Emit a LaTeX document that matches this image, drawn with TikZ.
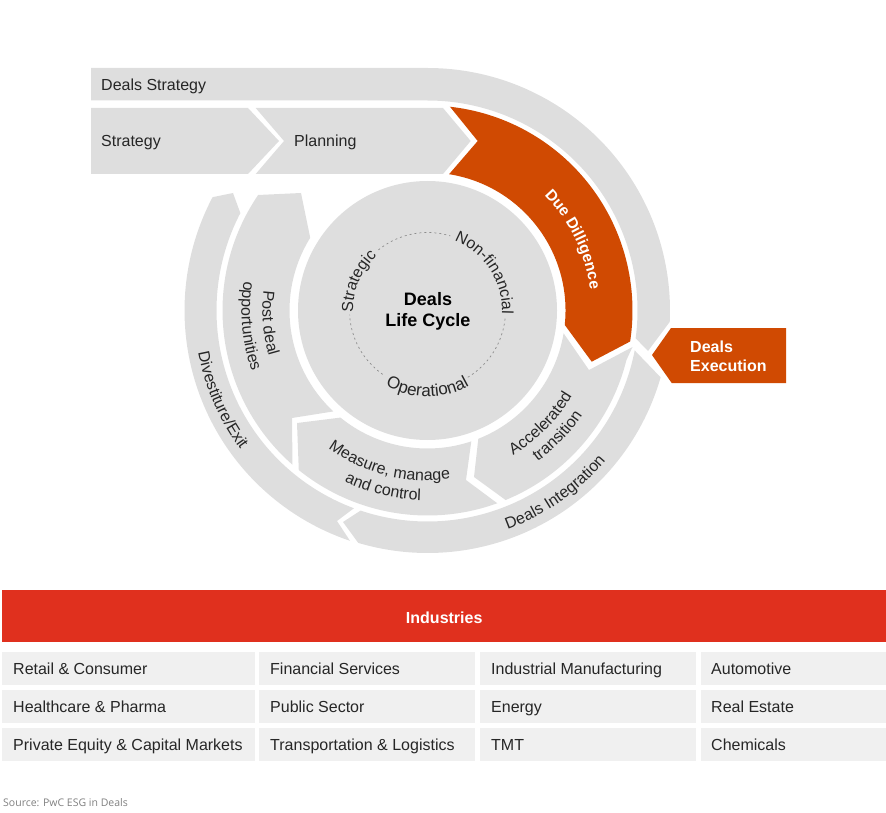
\documentclass[tikz,border=0pt]{standalone}
\usepackage{fontspec}
\setmainfont{Liberation Sans}
\newfontfamily\sourcefont{Open Sans}
\usepackage{xcolor}
\usepackage{tikz}
\usetikzlibrary{calc}
\usetikzlibrary{decorations.text}

\definecolor{ringgray}{HTML}{DEDEDE}
\definecolor{cellgray}{HTML}{F0F0F0}
\definecolor{dealorange}{HTML}{D04A02}
\definecolor{barred}{HTML}{E0301E}
\definecolor{labelblack}{HTML}{262626}
\definecolor{dotgray}{HTML}{8C8C8C}

\newcommand{\labelfont}{\fontsize{16}{19}\selectfont\color{labelblack}}
\newcommand{\widefont}{\fontsize{17}{19}\selectfont\color{labelblack}}
\newcommand{\boldfont}{\fontsize{16}{19}\selectfont\bfseries\color{white}}
\newcommand{\duefont}{\fontsize{15.5}{19}\selectfont\bfseries\color{white}}

\tikzset{
	ringlabel/.style={decorate, decoration={text along path, text align=center, text={|\labelfont|#1}}},
	widelabel/.style={decorate, decoration={text along path, text align=center, text={|\widefont|#1}}},
	duelabel/.style={decorate, decoration={text along path, text align=center, text={|\duefont|#1}}},
	plainlabel/.style={anchor=base west, inner sep=0pt, font=\labelfont},
	cellbox/.style={anchor=west, fill=cellgray, minimum height=33pt, inner ysep=0pt, text height=14.5pt, text depth=3.5pt, align=flush left, font=\labelfont},
	cellone/.style={cellbox, inner xsep=11pt, text width=231pt},
	celltwo/.style={cellbox, inner xsep=11pt, text width=194pt},
	cellthree/.style={cellbox, inner xsep=11pt, text width=194pt},
	cellfour/.style={cellbox, inner xsep=10pt, text width=165pt},
	dots/.style={draw=dotgray, line width=0.7pt, dash pattern=on 2pt off 3pt},
}

\begin{document}
\begin{tikzpicture}[x=1pt, y=1pt]
	\useasboundingbox (0,0) rectangle (886,-813);
	\coordinate (C) at (427.5,-310.5);

	% outer ring
	\fill [ringgray] (91,-68) -- (427.5,-68) arc (90:-2.7:242.5) -- (648,-351) -- ($(C)+(-7.6:210)$) arc (-7.6:90:210) -- (91,-100.5) -- cycle;
	\fill [ringgray] ($(C)+(-10.9:211)$) -- ($(C)+(-16:242.5)$) arc (-16:-106.6:242.5) -- (343,-522) -- ($(C)+(-108.5:211)$) arc (-108.5:-10.9:211) -- cycle;
	\fill [ringgray] ($(C)+(251.4:243)$) arc (251.4:152.2:243) -- (233,-193) -- ($(C)+(152.5:211)$) arc (152.5:249.6:211) -- (337,-521) -- cycle;

	% chevrons
	\fill [ringgray] (91,-108) -- (248,-108) -- (279,-141) -- (248,-174) -- (91,-174) -- cycle;
	\fill [ringgray] (255.7,-108) -- (443,-108) -- (470.7,-141) -- (443,-174) -- (255.7,-174) -- (284,-141) -- cycle;

	% middle ring
	\fill [dealorange] ($(C)+(83.7:205)$) arc (83.7:-8.7:205) -- (591.7,-361.7) -- ($(C)+(-6:138)$) arc (-6:81:138) -- (477.7,-141) -- cycle;
	\fill [ringgray] ($(C)+(-68.4:138)$) -- (474,-477) -- ($(C)+(-67.6:205)$) arc (-67.6:-14:205) -- (632.5,-347) -- (589,-370) -- ($(C)+(-9.5:138)$) arc (-9.5:-68.4:138) -- cycle;
	\fill [ringgray] ($(C)+(230.9:138)$) -- (297,-423) -- ($(C)+(231.1:205)$) arc (231.1:289.9:205) -- (466,-480) -- ($(C)+(288.5:138)$) arc (288.5:230.9:138) -- cycle;
	\fill [ringgray] (258,-195) -- (301,-193) -- ($(C)+(148.2:138)$) arc (148.2:227:138) -- (292,-418) -- ($(C)+(228.8:205)$) arc (228.8:145.7:205) -- cycle;

	% inner circle
	\fill [ringgray] (C) circle (129.5);
	\draw [dots] ($(C)+(129:78)$) arc (129:73:78);
	\draw [dots] ($(C)+(-6:78)$) arc (-6:-59:78);
	\draw [dots] ($(C)+(-125:78)$) arc (-125:-177:78);

	\node (Life) [align=center, inner sep=0pt, font=\fontsize{18}{21}\selectfont\bfseries\color{black}] at (428,-311.5) {Deals\\Life Cycle};

	% labels on the inner circle
	\path [ringlabel={Strategic}] ($(C)+(207:74.5)$) arc (207:107:74.5);
	\path [ringlabel={Non-financial}] ($(C)+(83:74.5)$) arc (83:-17:74.5);
	\path [widelabel={Operational}] ($(C)+(-140:86)$) arc (-140:-40:86);

	% labels on the middle ring
	\path [duelabel={Due Dilligence}] ($(C)+(69:164)$) arc (69:-17:164);
	\path [ringlabel={Accelerated}] ($(C)+(-75:168)$) arc (-75:-15:168);
	\path [ringlabel={transition}] ($(C)+(-74:187)$) arc (-74:-14:187);
	\path [ringlabel={Measure, manage}] ($(C)+(-140:170)$) arc (-140:-68:170);
	\path [ringlabel={and control}] ($(C)+(-134:190)$) arc (-134:-74:190);
	\path [ringlabel={Post deal}] ($(C)+(155:165)$) arc (155:214:165);
	\path [ringlabel={opportunities}] ($(C)+(155:186)$) arc (155:215:186);

	% labels on the outer ring
	\path [ringlabel={Divestiture/Exit}] ($(C)+(173:233)$) arc (173:234:233);
	\path [ringlabel={Deals Integration}] ($(C)+(-90:233)$) arc (-90:-20:233);

	\node (Strat) [plainlabel] at (101,-90.5) {Deals Strategy};
	\node (Strategy) [plainlabel] at (101,-146.5) {Strategy};
	\node (Planning) [plainlabel] at (294,-146.5) {Planning};

	% deals execution
	\fill [dealorange] (671,-328) -- (786,-328) -- (786,-383) -- (671.7,-383) -- (652,-355) -- cycle;
	\node (Exec) [anchor=west, align=left, inner sep=0pt, font=\boldfont] at (690,-356) {Deals\\Execution};

	% industries
	\node (Industries) [anchor=north west, fill=barred, minimum width=884pt, minimum height=52pt, inner sep=0pt, text height=15.5pt, text depth=0pt, font=\boldfont] at (2,-590) {Industries};

	\node (Retail) [cellone] at (2,-668.5) {Retail \& Consumer};
	\node (Health) [cellone] at (2,-706.5) {Healthcare \& Pharma};
	\node (Equity) [cellone] at (2,-744.5) {Private Equity \& Capital Markets};

	\node (Finance) [celltwo] at (259,-668.5) {Financial Services};
	\node (Public) [celltwo] at (259,-706.5) {Public Sector};
	\node (Transport) [celltwo] at (259,-744.5) {Transportation \& Logistics};

	\node (Manufacturing) [cellthree] at (480,-668.5) {Industrial Manufacturing};
	\node (Energy) [cellthree] at (480,-706.5) {Energy};
	\node (TMT) [cellthree] at (480,-744.5) {TMT};

	\node (Auto) [cellfour] at (701,-668.5) {Automotive};
	\node (Estate) [cellfour] at (701,-706.5) {Real Estate};
	\node (Chemicals) [cellfour] at (701,-744.5) {Chemicals};

	\node (Source) [anchor=base west, inner sep=0pt, text=gray, font=\sourcefont\fontsize{10.5}{12}\selectfont] at (3,-806.5) {Source: PwC ESG in Deals};
\end{tikzpicture}
\end{document}
